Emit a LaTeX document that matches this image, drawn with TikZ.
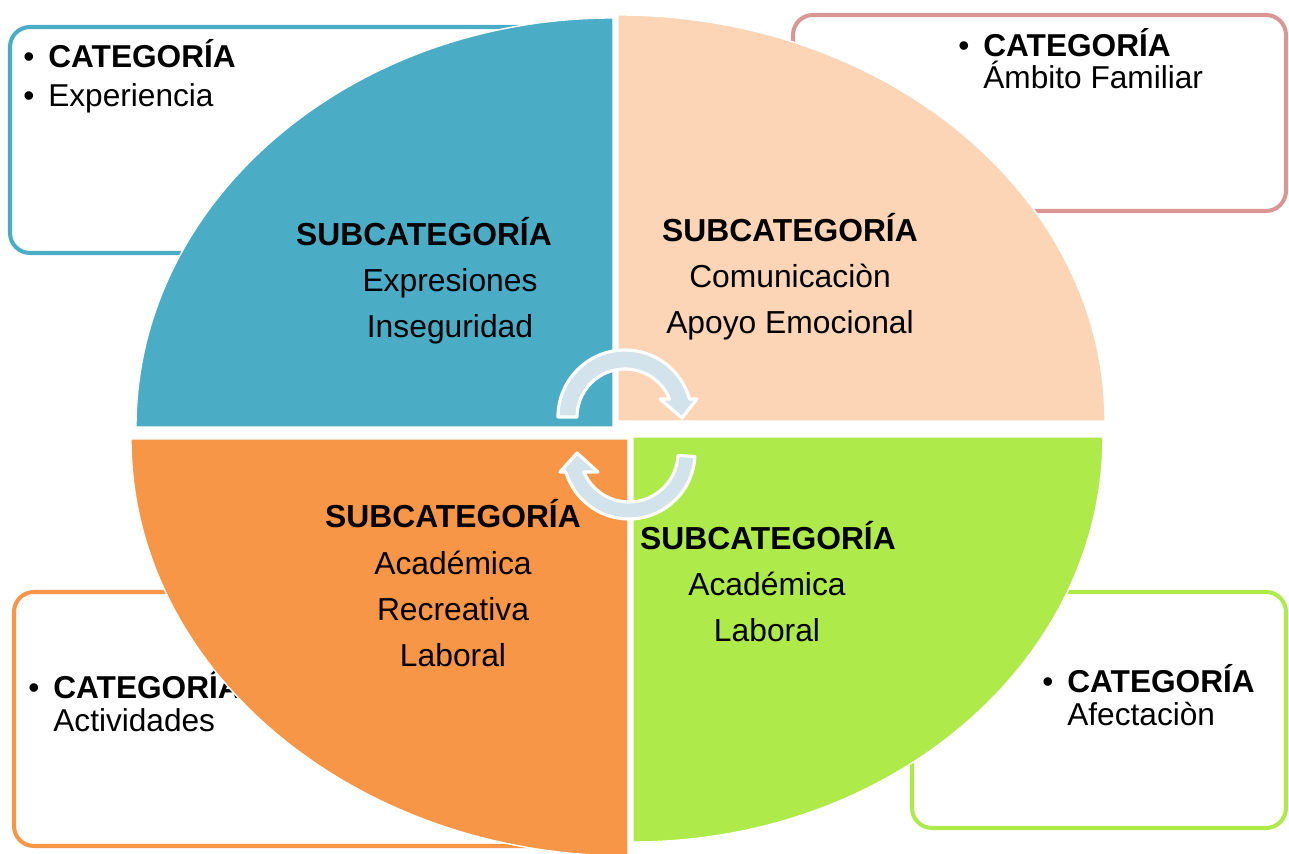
\documentclass[tikz,border=0pt]{standalone}
\usepackage{fontspec}
\setmainfont{Liberation Sans}

\definecolor{azul}{HTML}{4BACC6}
\definecolor{rosa}{HTML}{D99694}
\definecolor{durazno}{HTML}{FBD5B5}
\definecolor{naranja}{HTML}{F79646}
\definecolor{verde}{HTML}{AEEA4A}
\definecolor{flecha}{HTML}{D2E3EB}

\tikzset{
    catbox/.style={rounded corners=0.4cm, line width=2.3pt, fill=white},
    pie/.style={draw=white, line width=0.8pt},
    cattext/.style={align=left, inner sep=0pt, anchor=base west, font=\fontsize{18pt}{#1}\selectfont},
    subtext/.style={align=center, inner sep=0pt, anchor=base, font=\fontsize{18.1pt}{26.3pt}\selectfont},
    arrowband/.style={fill=flecha, draw=white, line width=1.8pt, line join=round}
}

\begin{document}
\begin{tikzpicture}[x=0.02cm, y=0.02cm]

        \useasboundingbox (0,0) rectangle (1289,854);

        % Cuadros de categoria
        \draw[catbox, draw=azul] (10,601) rectangle (560,827);
        \draw[catbox, draw=rosa] (793,643) rectangle (1286,839);
        \draw[catbox, draw=naranja] (14,8) rectangle (600,262);
        \draw[catbox, draw=verde] (912,26) rectangle (1286,262);

        \node[cattext=22.2pt] at (48,747) (experiencia) {\llap{\textbullet\hspace{0.28cm}}\textbf{CATEGORÍA}\\\llap{\textbullet\hspace{0.28cm}}Experiencia};
        \node[cattext=18.4pt] at (983,765) (familiar) {\llap{\textbullet\hspace{0.28cm}}\textbf{CATEGORÍA}\\Ámbito Familiar};
        \node[cattext=19.3pt] at (53,122) (actividades) {\llap{\textbullet\hspace{0.28cm}}\textbf{CATEGORÍA}\\Actividades};
        \node[cattext=19.3pt] at (1067,128) (afectacion) {\llap{\textbullet\hspace{0.28cm}}\textbf{CATEGORÍA}\\Afectaciòn};

        % Cuadrantes
        \filldraw[pie, fill=azul] (613,427) -- (136,427) arc[start angle=180, end angle=90, x radius=477, y radius=409] -- cycle;
        \filldraw[pie, fill=durazno] (618,433) -- (618,839) arc[start angle=90, end angle=0, x radius=487, y radius=406] -- cycle;
        \filldraw[pie, fill=naranja] (628,415) -- (131,415) arc[start angle=180, end angle=270, x radius=497, y radius=417] -- cycle;
        \filldraw[pie, fill=verde] (633,417) -- (1103,417) arc[start angle=0, end angle=-90, x radius=470, y radius=405] -- cycle;

        % Subcategorias
        \node[subtext] at (424,608) (subexp) {\textbf{SUBCATEGORÍA}};
        \node[subtext] at (450,516) (listexp) {Expresiones\\Inseguridad};

        \node[subtext] at (790,612) (subfam) {\textbf{SUBCATEGORÍA}};
        \node[subtext] at (790,520) (listfam) {Comunicaciòn\\Apoyo Emocional};

        \node[subtext] at (453,326) (subact) {\textbf{SUBCATEGORÍA}};
        \node[subtext] at (453,187) (listact) {Académica\\Recreativa\\Laboral};

        \node[subtext] at (768,304) (subafe) {\textbf{SUBCATEGORÍA}};
        \node[subtext] at (767,212) (listafe) {Académica\\Laboral};

        % Flechas circulares
        \begin{scope}[shift={(625,437)}]
            \draw[arrowband] (180:67) arc[start angle=180, end angle=15.6, radius=67] -- (72,18) -- (57,-1) -- (35,18) -- (22:48) arc[start angle=22, end angle=180, radius=48] -- cycle;
        \end{scope}
        \begin{scope}[shift={(629,401)}]
            \draw[arrowband] (-3:66) arc[start angle=-3, end angle=-163.3, radius=66] -- (-69,-19) -- (-52,0) -- (-31,-19) -- (-157.2:49) arc[start angle=-157.2, end angle=-3, radius=49] -- cycle;
        \end{scope}

    \end{tikzpicture}
\end{document}
